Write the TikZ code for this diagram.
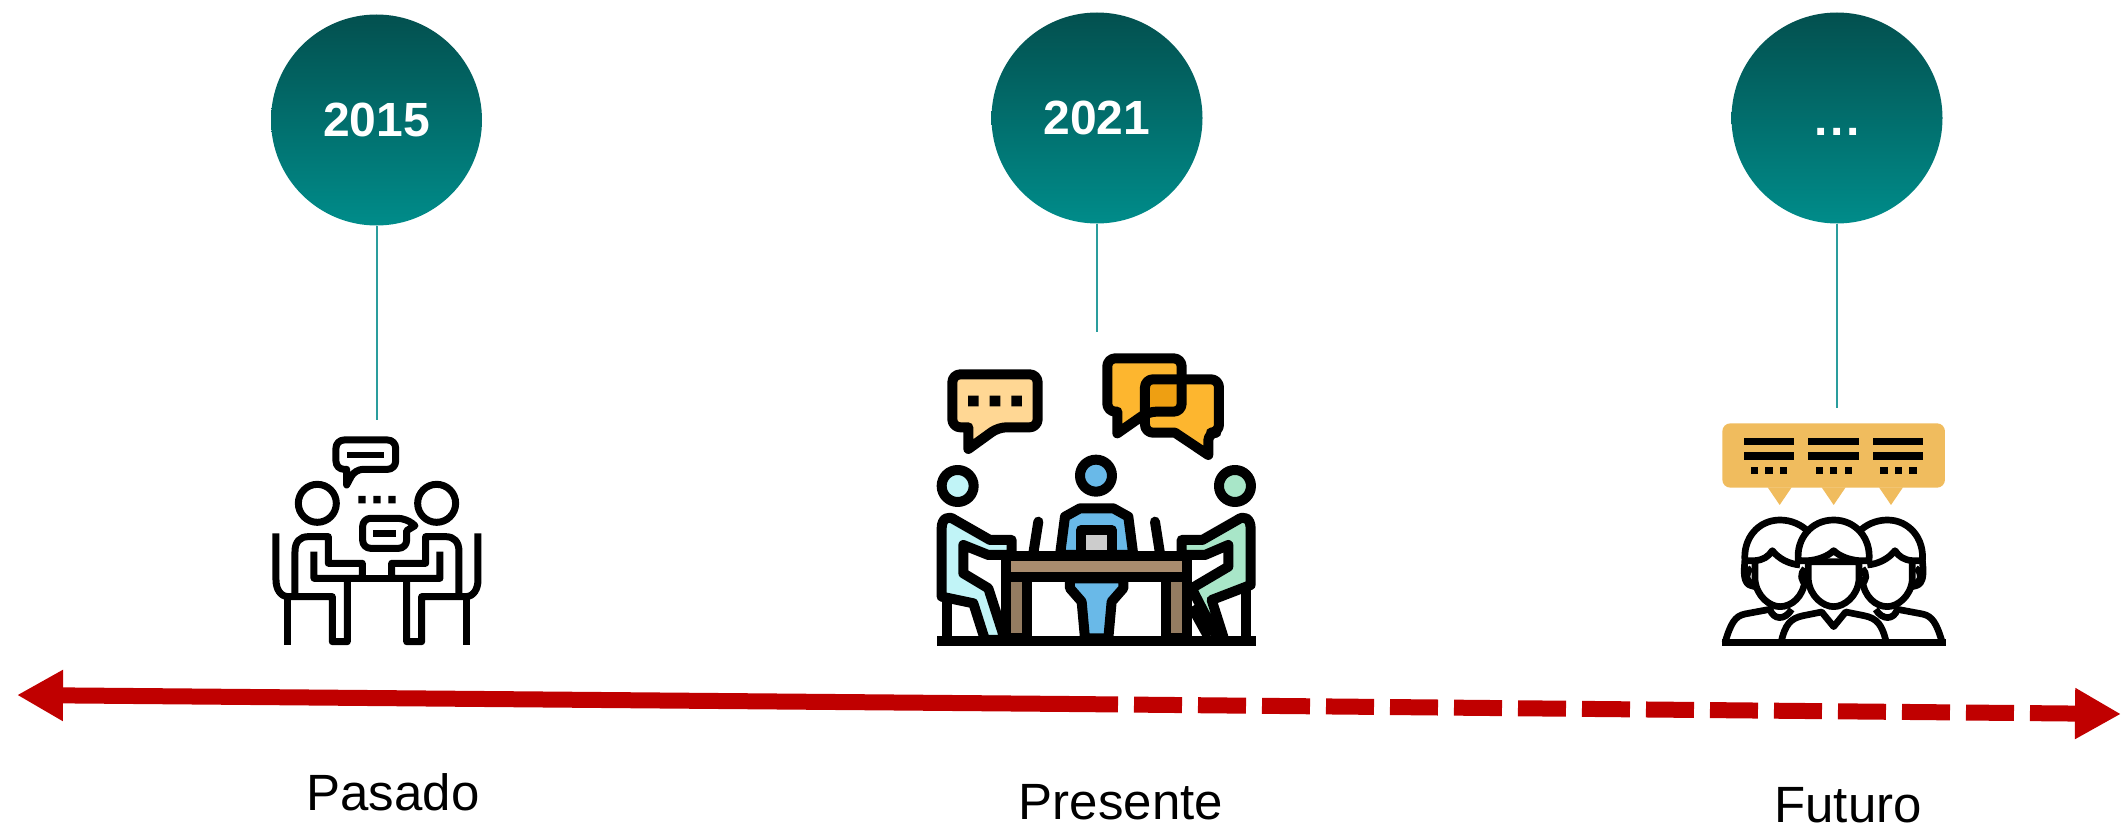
\documentclass[tikz,border=0pt]{standalone}
\usepackage{fontspec}
\setmainfont{Liberation Sans}
\usetikzlibrary{arrows.meta}
\definecolor{arrowred}{HTML}{C00000}
\definecolor{stemteal}{HTML}{2A9D9D}
\definecolor{tealtop}{HTML}{03504F}
\definecolor{tealbot}{HTML}{008C8A}
\definecolor{bubblea}{HTML}{FFD794}
\definecolor{bubbleb}{HTML}{FDB62F}
\definecolor{bubblec}{HTML}{EE9F12}
\definecolor{bubbled}{HTML}{F0BC5E}
\definecolor{skina}{HTML}{C1F4F7}
\definecolor{skinb}{HTML}{69B9E8}
\definecolor{skinc}{HTML}{A8E6C8}
\definecolor{wooda}{HTML}{A98C6E}
\definecolor{woodb}{HTML}{947C61}
\tikzset{
  yearcircle/.style={circle,minimum size=211pt,inner sep=0pt,top color=tealtop,bottom color=tealbot,text=white,font=\fontsize{48}{48}\selectfont\bfseries},
  yeardots/.style={anchor=base,inner sep=0pt,text=white,font=\fontsize{48}{48}\selectfont\bfseries},
  stem/.style={draw=stemteal,line width=2pt},
  eralabel/.style={anchor=base,inner sep=0pt,text=black,font=\fontsize{51}{51}\selectfont},
  timeline/.style={draw=arrowred,line width=16pt},
  tiphead/.style={-{Triangle[length=46pt,width=48pt,fill=arrowred]}},
  iconzoom/.style={x=0.3333pt,y=-0.3333pt,line join=round,line cap=butt},
  thinicon/.style={draw=black,line width=7pt},
  thickicon/.style={draw=black,line width=10pt},
  peopleicon/.style={draw=black,line width=6.7pt},
}
\begin{document}
\begin{tikzpicture}[x=1pt,y=-1pt]
\useasboundingbox (0,0) rectangle (2121,824);
% year circles
\node[yearcircle] (y2015) at (376.5,120) {2015};
\node[yearcircle] (y2021) at (1097,118) {2021};
\node[yearcircle] (yfut) at (1837,118) {};
\node[yeardots] (dots) at (1837,136) {.\hspace{3pt}.\hspace{3pt}.};
\coordinate (s1) at (376.5,420);
\coordinate (s2) at (1097,332);
\coordinate (s3) at (1837,408);
\draw[stem] (y2015) -- (s1);
\draw[stem] (y2021) -- (s2);
\draw[stem] (yfut) -- (s3);
% timeline
\coordinate (tlmid) at (1070,704);
\coordinate (tlleft) at (17,695);
\coordinate (tlright) at (2121,714);
\draw[timeline,tiphead] (tlmid) -- (tlleft);
\draw[timeline,dash pattern=on 48pt off 16pt,tiphead] (tlmid) -- (tlright);
% labels
\node[eralabel] (pasado) at (393,810) {Pasado};
\node[eralabel] (presente) at (1121,819) {Presente};
\node[eralabel] (futuro) at (1848,822) {Futuro};
% icon 1
\begin{scope}[shift={(240,410)},iconzoom]
  \draw[thinicon] (380,90) [rounded corners=8pt] -- (467,90) -- (467,178) -- (345,178) [sharp corners] -- (320,225) -- (320,178) [rounded corners=8pt] -- (288,178) -- (288,90) -- cycle;
  \fill (322,125) rectangle (433,145);
  \draw[thinicon] (232,280) circle[radius=57];
  \draw[thinicon] (590,280) circle[radius=57];
  \fill (355,258) rectangle ++(22,22) (400,258) rectangle ++(22,22) (445,258) rectangle ++(22,22);
  \draw[thinicon] (430,325) [rounded corners=8pt] -- (498,325) [sharp corners] -- (525,347) -- (500,362) [rounded corners=8pt] -- (500,415) -- (368,415) -- (368,325) -- cycle;
  \fill (400,360) rectangle (467,380);
  \foreach \m/\o in {1/0,-1/822}{
    \begin{scope}[xscale=\m,xshift=\o*0.3333pt*\m]
    \draw[thinicon] (108,370) -- (108,510) .. controls (108,535) and (120,560) .. (145,560) -- (277,560) -- (277,695) -- (322,695) -- (322,505);
    \draw[thinicon] (143,560) -- (143,705);
    \draw[thinicon] (165,555) -- (165,425) .. controls (165,395) and (180,380) .. (205,380) -- (265,380) -- (265,460) -- (367,460) -- (367,505) -- (222,505) -- (222,425);
    \end{scope}
  }
  \draw[thinicon] (367,505) -- (455,505);
\end{scope}
% icon 2
\begin{scope}[shift={(910,340)},iconzoom]
  \filldraw[thickicon,fill=bubblea] (250,103) [rounded corners=8pt] -- (383,103) -- (383,262) -- (265,262) [sharp corners] -- (175,327) -- (175,262) [rounded corners=8pt] -- (127,262) -- (127,103) -- cycle;
  \fill (174,167) rectangle ++(32,32) (239,167) rectangle ++(32,32) (304,167) rectangle ++(32,32);
  \fill[bubbleb] (700,55) [rounded corners=8pt] -- (815,55) -- (815,215) -- (715,215) [sharp corners] -- (622,280) -- (622,215) [rounded corners=8pt] -- (592,215) -- (592,55) -- cycle;
  \fill[bubbleb] (800,118) [rounded corners=8pt] -- (927,118) -- (927,278) -- (895,278) [sharp corners] -- (895,345) -- (795,278) [rounded corners=8pt] -- (705,278) -- (705,118) -- cycle;
  \fill[bubblec] (705,118) rectangle (815,215);
  \draw[thickicon] (700,55) [rounded corners=8pt] -- (815,55) -- (815,215) -- (715,215) [sharp corners] -- (622,280) -- (622,215) [rounded corners=8pt] -- (592,215) -- (592,55) -- cycle;
  \draw[thickicon] (800,118) [rounded corners=8pt] -- (927,118) -- (927,278) -- (895,278) [sharp corners] -- (895,345) -- (795,278) [rounded corners=8pt] -- (705,278) -- (705,118) -- cycle;
  % chairs
  \draw[thickicon] (112,770) -- (112,890);
  \draw[thickicon] (1007,740) -- (1007,890);
  % heads
  \filldraw[thickicon,fill=skina] (143,438) circle[radius=48];
  \filldraw[thickicon,fill=skinb] (558,407) circle[radius=48];
  \filldraw[thickicon,fill=skinc] (975,438) circle[radius=48];
  % left person
  \filldraw[thickicon,fill=skina] (95,770) -- (95,565) .. controls (95,535) and (115,525) .. (135,540) -- (240,600) -- (305,600) -- (305,645) -- (235,645) -- (160,615) -- (160,700) -- (235,745) -- (285,900) -- (225,900) -- (190,790) -- cycle;
  % right person
  \draw[thickicon] (845,800) -- (895,890);
  \filldraw[thickicon,fill=skinc] (1022,735) -- (1022,565) .. controls (1022,535) and (1002,525) .. (982,540) -- (877,600) -- (815,600) -- (815,645) -- (885,645) -- (955,615) -- (955,680) -- (845,745) -- (925,900) -- (940,890) -- (905,780) -- cycle;
  % laptop screens
  \draw[thickicon,line cap=round] (385,545) -- (370,640);
  \draw[thickicon,line cap=round] (735,545) -- (750,640);
  % centre person
  \filldraw[thickicon,fill=skinb] (450,645) -- (465,530) -- (510,505) -- (610,505) -- (655,530) -- (670,645) -- cycle;
  \filldraw[thickicon,fill=black!20] (513,645) -- (513,570) -- (605,570) -- (605,645) -- cycle;
  \filldraw[thickicon,fill=skinb] (480,715) -- (480,745) -- (515,785) -- (525,895) -- (595,895) -- (605,785) -- (640,745) -- (640,715) -- cycle;
  % table
  \filldraw[thickicon,fill=woodb] (287,710) rectangle (351,895);
  \filldraw[thickicon,fill=woodb] (767,710) rectangle (831,895);
  \filldraw[thickicon,fill=wooda] (287,648) rectangle (831,710);
  \fill (80,888) rectangle (1038,918);
\end{scope}
% icon 3
\begin{scope}[shift={(1700,410)},iconzoom]
  \fill[bubbled,rounded corners=8pt] (67,40) rectangle (735,233);
  \foreach \d in {0,194,388}{
    \fill (131+\d,83) rectangle (282+\d,105);
    \fill (131+\d,127) rectangle (282+\d,149);
    \fill (153+\d,170) rectangle ++(22,21);
    \fill (196+\d,170) rectangle ++(22,21);
    \fill (240+\d,170) rectangle ++(22,21);
  }
  \fill[bubbled] (203,232) -- (275,232) -- (239,285) -- cycle;
  \fill[bubbled] (365,232) -- (437,232) -- (401,285) -- cycle;
  \fill[bubbled] (537,232) -- (609,232) -- (573,285) -- cycle;
  % back people
  \foreach \m/\o in {1/0,-1/802}{
    \begin{scope}[xscale=\m,xshift=\o*0.3333pt*\m]
    \draw[peopleicon] (75,698) .. controls (92,640) and (105,618) .. (135,612) -- (210,598) .. controls (220,630) and (255,632) .. (275,598);
    \draw[peopleicon] (155,475) .. controls (135,485) and (135,515) .. (160,522);
    \draw[peopleicon] (135,452) .. controls (125,530) and (150,525) .. (165,530);
    \draw[peopleicon] (165,455) -- (165,510) .. controls (170,560) and (210,590) .. (240,590) .. controls (275,590) and (310,560) .. (315,510);
    \draw[peopleicon] (135,455) .. controls (128,385) and (175,330) .. (240,330) .. controls (275,330) and (305,345) .. (325,365);
    \draw[peopleicon] (135,452) -- (165,452) .. controls (190,450) and (205,440) .. (217,422) .. controls (235,445) and (265,462) .. (300,465);
    \end{scope}
  }
  % front person
  \filldraw[peopleicon,fill=white] (243,698) .. controls (255,645) and (270,625) .. (310,617) -- (365,606) -- (401,650) -- (437,606) -- (492,617) .. controls (532,625) and (547,645) .. (559,698) -- cycle;
  \filldraw[peopleicon,fill=white] (325,455) -- (325,510) .. controls (330,560) and (370,590) .. (401,590) .. controls (432,590) and (472,560) .. (477,510) -- (477,455) -- cycle;
  \draw[peopleicon] (315,475) .. controls (300,490) and (300,515) .. (322,525);
  \draw[peopleicon] (487,475) .. controls (502,490) and (502,515) .. (480,525);
  \filldraw[peopleicon,fill=white] (295,452) .. controls (288,385) and (335,330) .. (401,330) .. controls (467,330) and (514,385) .. (507,452) -- (477,452) .. controls (450,450) and (420,440) .. (401,422) .. controls (382,440) and (352,450) .. (325,452) -- cycle;
  \fill (65,688) -- (737,688) -- (737,708) -- (65,708) -- cycle;
\end{scope}
\end{tikzpicture}
\end{document}
